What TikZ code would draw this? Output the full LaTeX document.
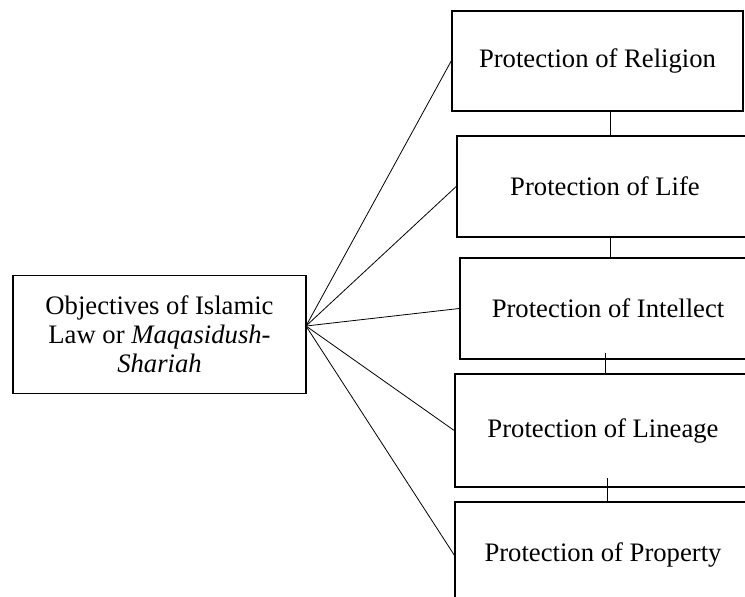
\documentclass[tikz,border=0pt]{standalone}
\usepackage{fontspec}
\setmainfont{Liberation Serif}
\usepackage{tikz}

\tikzset{
  pbox/.style={draw, line width=1.2pt, minimum width=222pt, minimum height=75.75pt, inner sep=0pt, font=\fontsize{20}{21.5}\selectfont},
  spoke/.style={line width=0.6pt}
}

\begin{document}
\begin{tikzpicture}[x=0.75pt,y=0.75pt,yscale=-1,xscale=1]
%set diagram size 745 x 596
\clip (0,0) rectangle (745,596);

%Rectangle [id:objectives]
\node [pbox, minimum width=219.75pt, minimum height=88.5pt, align=center, font=\fontsize{20}{21.8}\selectfont] (obj) at (159.5,334.5) {Objectives of Islamic\\Law or \textit{Maqasidush-}\\\textit{Shariah}};

%Rectangles [id:protections]
\node [pbox, minimum width=218.25pt, minimum height=75pt] (relig) at (597.5,61) {Protection of Religion};
\node [pbox] (life) at (605,186.5) {Protection of Life};
\node [pbox] (intel) at (608,308.5) {Protection of Intellect};
\node [pbox, minimum height=84.75pt] (lineage) at (603,430.5) {Protection of Lineage};
\node [pbox, minimum height=79.5pt] (prop) at (603,555) {Protection of Property};

%Flowchart: Connector [id:hub]
\coordinate (hub) at (306,326);

%Straight Lines [id:spokes]
\draw [spoke] (hub) -- (relig.west);
\draw [spoke] (hub) -- (life.west);
\draw [spoke] (hub) -- (intel.west);
\draw [spoke] (hub) -- (lineage.west);
\draw [spoke] (hub) -- (prop.west);

%Straight Lines [id:links]
\draw [spoke] ([xshift=3.75pt]life.north) -- ([xshift=3.75pt]life.north |- relig.south);
\draw [spoke] ([xshift=3.75pt]life.south) -- ([xshift=3.75pt]life.south |- intel.north);
\draw [spoke] ([xshift=-2.25pt,yshift=-5pt]intel.south) -- ([xshift=-2.25pt]intel.south |- lineage.north);
\draw [spoke] ([xshift=3pt,yshift=-7pt]lineage.south) -- ([xshift=3pt]lineage.south |- prop.north);

\end{tikzpicture}
\end{document}
